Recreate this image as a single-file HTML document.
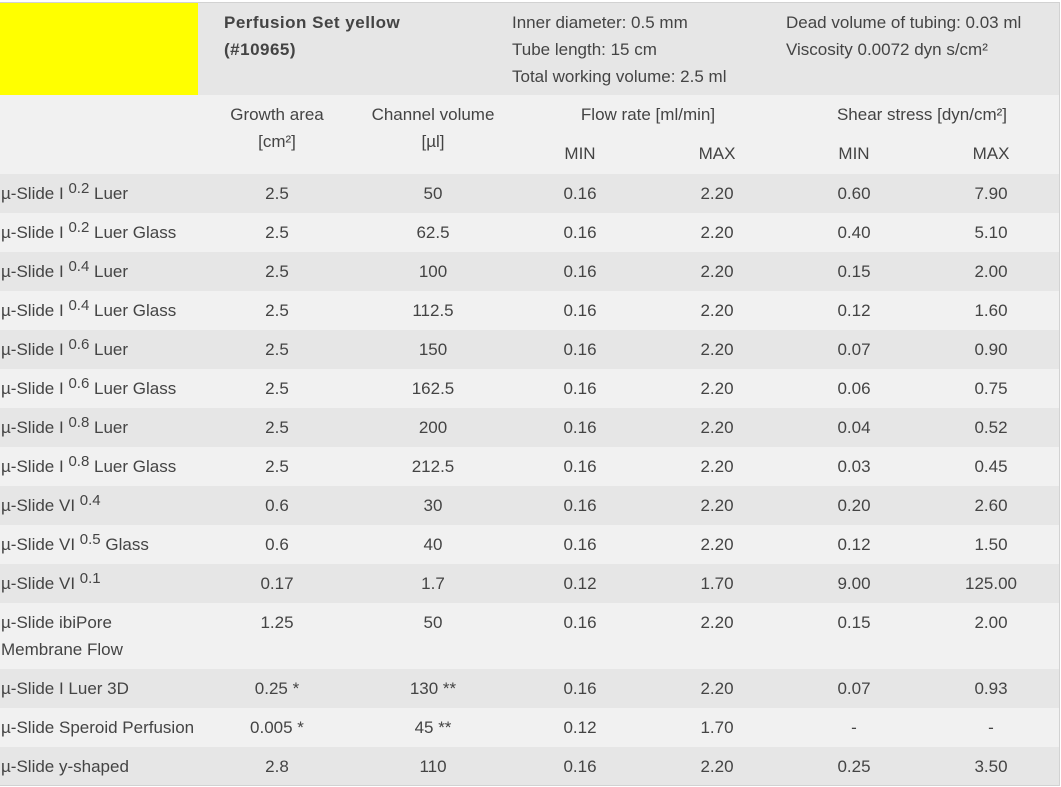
<!DOCTYPE html>
<html>
<head>
<meta charset="utf-8">
<style>
html,body{margin:0;padding:0;background:#fff;width:1061px;height:787px;overflow:hidden;}
body{position:relative;font-family:"Liberation Sans","DejaVu Sans",sans-serif;font-size:17px;color:#444;}
.bg{position:absolute;left:0;width:1059px;}
.d{background:#e6e6e6;}
.l{background:#f1f1f1;}
.t{position:absolute;line-height:27px;white-space:nowrap;}
.c{text-align:center;width:160px;}
sup{font-size:15px;vertical-align:0;position:relative;top:-6px;line-height:0;}
.b{font-weight:bold;letter-spacing:0.5px;}
</style>
</head>
<body>
<!-- borders -->
<div style="position:absolute;left:0;top:2px;width:1060px;height:1px;background:#d2d2d2;"></div>
<div style="position:absolute;left:1059px;top:2px;width:1px;height:784px;background:#d2d2d2;"></div>
<div style="position:absolute;left:0;top:785px;width:1060px;height:1px;background:#d2d2d2;"></div>

<!-- header row 1 -->
<div class="bg d" style="top:3px;height:92px;"></div>
<div style="position:absolute;left:0;top:3px;width:198px;height:92px;background:#ffff00;"></div>
<div class="t b" style="left:224px;top:9px;">Perfusion Set yellow<br>(#10965)</div>
<div class="t" style="left:512px;top:9px;">Inner diameter: 0.5 mm<br>Tube length: 15 cm<br>Total working volume: 2.5 ml</div>
<div class="t" style="left:786px;top:9px;">Dead volume of tubing: 0.03 ml<br>Viscosity 0.0072 dyn s/cm²</div>

<!-- header row 2 -->
<div class="bg l" style="top:95px;height:79px;"></div>
<div class="t c" style="left:197px;top:101px;">Growth area<br>[cm²]</div>
<div class="t c" style="left:353px;top:101px;">Channel volume<br>[µl]</div>
<div class="t c" style="left:548px;top:101px;width:200px;">Flow rate [ml/min]</div>
<div class="t c" style="left:822px;top:101px;width:200px;">Shear stress [dyn/cm²]</div>
<div class="t c" style="left:500px;top:140px;">MIN</div>
<div class="t c" style="left:637px;top:140px;">MAX</div>
<div class="t c" style="left:774px;top:140px;">MIN</div>
<div class="t c" style="left:911px;top:140px;">MAX</div>

<!-- data rows -->
<div class="bg d" style="top:174px;height:39px;"></div>
<div class="bg l" style="top:213px;height:39px;"></div>
<div class="bg d" style="top:252px;height:39px;"></div>
<div class="bg l" style="top:291px;height:39px;"></div>
<div class="bg d" style="top:330px;height:39px;"></div>
<div class="bg l" style="top:369px;height:39px;"></div>
<div class="bg d" style="top:408px;height:39px;"></div>
<div class="bg l" style="top:447px;height:39px;"></div>
<div class="bg d" style="top:486px;height:39px;"></div>
<div class="bg l" style="top:525px;height:39px;"></div>
<div class="bg d" style="top:564px;height:39px;"></div>
<div class="bg l" style="top:603px;height:66px;"></div>
<div class="bg d" style="top:669px;height:39px;"></div>
<div class="bg l" style="top:708px;height:39px;"></div>
<div class="bg d" style="top:747px;height:38px;"></div>

<!-- row 1 -->
<div class="t" style="left:1px;top:180px;">µ-Slide I <sup>0.2</sup> Luer</div>
<div class="t c" style="left:197px;top:180px;">2.5</div>
<div class="t c" style="left:353px;top:180px;">50</div>
<div class="t c" style="left:500px;top:180px;">0.16</div>
<div class="t c" style="left:637px;top:180px;">2.20</div>
<div class="t c" style="left:774px;top:180px;">0.60</div>
<div class="t c" style="left:911px;top:180px;">7.90</div>
<!-- row 2 -->
<div class="t" style="left:1px;top:219px;">µ-Slide I <sup>0.2</sup> Luer Glass</div>
<div class="t c" style="left:197px;top:219px;">2.5</div>
<div class="t c" style="left:353px;top:219px;">62.5</div>
<div class="t c" style="left:500px;top:219px;">0.16</div>
<div class="t c" style="left:637px;top:219px;">2.20</div>
<div class="t c" style="left:774px;top:219px;">0.40</div>
<div class="t c" style="left:911px;top:219px;">5.10</div>
<!-- row 3 -->
<div class="t" style="left:1px;top:258px;">µ-Slide I <sup>0.4</sup> Luer</div>
<div class="t c" style="left:197px;top:258px;">2.5</div>
<div class="t c" style="left:353px;top:258px;">100</div>
<div class="t c" style="left:500px;top:258px;">0.16</div>
<div class="t c" style="left:637px;top:258px;">2.20</div>
<div class="t c" style="left:774px;top:258px;">0.15</div>
<div class="t c" style="left:911px;top:258px;">2.00</div>
<!-- row 4 -->
<div class="t" style="left:1px;top:297px;">µ-Slide I <sup>0.4</sup> Luer Glass</div>
<div class="t c" style="left:197px;top:297px;">2.5</div>
<div class="t c" style="left:353px;top:297px;">112.5</div>
<div class="t c" style="left:500px;top:297px;">0.16</div>
<div class="t c" style="left:637px;top:297px;">2.20</div>
<div class="t c" style="left:774px;top:297px;">0.12</div>
<div class="t c" style="left:911px;top:297px;">1.60</div>
<!-- row 5 -->
<div class="t" style="left:1px;top:336px;">µ-Slide I <sup>0.6</sup> Luer</div>
<div class="t c" style="left:197px;top:336px;">2.5</div>
<div class="t c" style="left:353px;top:336px;">150</div>
<div class="t c" style="left:500px;top:336px;">0.16</div>
<div class="t c" style="left:637px;top:336px;">2.20</div>
<div class="t c" style="left:774px;top:336px;">0.07</div>
<div class="t c" style="left:911px;top:336px;">0.90</div>
<!-- row 6 -->
<div class="t" style="left:1px;top:375px;">µ-Slide I <sup>0.6</sup> Luer Glass</div>
<div class="t c" style="left:197px;top:375px;">2.5</div>
<div class="t c" style="left:353px;top:375px;">162.5</div>
<div class="t c" style="left:500px;top:375px;">0.16</div>
<div class="t c" style="left:637px;top:375px;">2.20</div>
<div class="t c" style="left:774px;top:375px;">0.06</div>
<div class="t c" style="left:911px;top:375px;">0.75</div>
<!-- row 7 -->
<div class="t" style="left:1px;top:414px;">µ-Slide I <sup>0.8</sup> Luer</div>
<div class="t c" style="left:197px;top:414px;">2.5</div>
<div class="t c" style="left:353px;top:414px;">200</div>
<div class="t c" style="left:500px;top:414px;">0.16</div>
<div class="t c" style="left:637px;top:414px;">2.20</div>
<div class="t c" style="left:774px;top:414px;">0.04</div>
<div class="t c" style="left:911px;top:414px;">0.52</div>
<!-- row 8 -->
<div class="t" style="left:1px;top:453px;">µ-Slide I <sup>0.8</sup> Luer Glass</div>
<div class="t c" style="left:197px;top:453px;">2.5</div>
<div class="t c" style="left:353px;top:453px;">212.5</div>
<div class="t c" style="left:500px;top:453px;">0.16</div>
<div class="t c" style="left:637px;top:453px;">2.20</div>
<div class="t c" style="left:774px;top:453px;">0.03</div>
<div class="t c" style="left:911px;top:453px;">0.45</div>
<!-- row 9 -->
<div class="t" style="left:1px;top:492px;">µ-Slide VI <sup>0.4</sup></div>
<div class="t c" style="left:197px;top:492px;">0.6</div>
<div class="t c" style="left:353px;top:492px;">30</div>
<div class="t c" style="left:500px;top:492px;">0.16</div>
<div class="t c" style="left:637px;top:492px;">2.20</div>
<div class="t c" style="left:774px;top:492px;">0.20</div>
<div class="t c" style="left:911px;top:492px;">2.60</div>
<!-- row 10 -->
<div class="t" style="left:1px;top:531px;">µ-Slide VI <sup>0.5</sup> Glass</div>
<div class="t c" style="left:197px;top:531px;">0.6</div>
<div class="t c" style="left:353px;top:531px;">40</div>
<div class="t c" style="left:500px;top:531px;">0.16</div>
<div class="t c" style="left:637px;top:531px;">2.20</div>
<div class="t c" style="left:774px;top:531px;">0.12</div>
<div class="t c" style="left:911px;top:531px;">1.50</div>
<!-- row 11 -->
<div class="t" style="left:1px;top:570px;">µ-Slide VI <sup>0.1</sup></div>
<div class="t c" style="left:197px;top:570px;">0.17</div>
<div class="t c" style="left:353px;top:570px;">1.7</div>
<div class="t c" style="left:500px;top:570px;">0.12</div>
<div class="t c" style="left:637px;top:570px;">1.70</div>
<div class="t c" style="left:774px;top:570px;">9.00</div>
<div class="t c" style="left:911px;top:570px;">125.00</div>
<!-- row 12 -->
<div class="t" style="left:1px;top:609px;">µ-Slide ibiPore<br>Membrane Flow</div>
<div class="t c" style="left:197px;top:609px;">1.25</div>
<div class="t c" style="left:353px;top:609px;">50</div>
<div class="t c" style="left:500px;top:609px;">0.16</div>
<div class="t c" style="left:637px;top:609px;">2.20</div>
<div class="t c" style="left:774px;top:609px;">0.15</div>
<div class="t c" style="left:911px;top:609px;">2.00</div>
<!-- row 13 -->
<div class="t" style="left:1px;top:675px;">µ-Slide I Luer 3D</div>
<div class="t c" style="left:197px;top:675px;">0.25 *</div>
<div class="t c" style="left:353px;top:675px;">130 **</div>
<div class="t c" style="left:500px;top:675px;">0.16</div>
<div class="t c" style="left:637px;top:675px;">2.20</div>
<div class="t c" style="left:774px;top:675px;">0.07</div>
<div class="t c" style="left:911px;top:675px;">0.93</div>
<!-- row 14 -->
<div class="t" style="left:1px;top:714px;">µ-Slide Speroid Perfusion</div>
<div class="t c" style="left:197px;top:714px;">0.005 *</div>
<div class="t c" style="left:353px;top:714px;">45 **</div>
<div class="t c" style="left:500px;top:714px;">0.12</div>
<div class="t c" style="left:637px;top:714px;">1.70</div>
<div class="t c" style="left:774px;top:714px;">-</div>
<div class="t c" style="left:911px;top:714px;">-</div>
<!-- row 15 -->
<div class="t" style="left:1px;top:753px;">µ-Slide y-shaped</div>
<div class="t c" style="left:197px;top:753px;">2.8</div>
<div class="t c" style="left:353px;top:753px;">110</div>
<div class="t c" style="left:500px;top:753px;">0.16</div>
<div class="t c" style="left:637px;top:753px;">2.20</div>
<div class="t c" style="left:774px;top:753px;">0.25</div>
<div class="t c" style="left:911px;top:753px;">3.50</div>
</body>
</html>
